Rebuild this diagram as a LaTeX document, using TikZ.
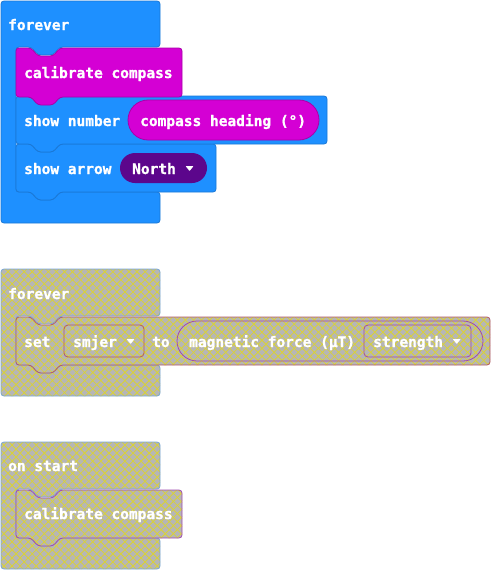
\documentclass[tikz,border=0pt]{standalone}
\usepackage{fontspec}
\newfontfamily\blockfont{DejaVu Sans Mono}[BoldFont={DejaVu Sans Mono Bold}, BoldFeatures={FakeBold=1.2}]
\usetikzlibrary{patterns.meta}

\definecolor{loopblue}{HTML}{1E90FF}
\definecolor{loopedge}{HTML}{1A78D6}
\definecolor{inputpink}{HTML}{D400D4}
\definecolor{inputedge}{HTML}{A800A8}
\definecolor{ledpurple}{HTML}{5C068C}
\definecolor{offgray}{HTML}{B6B6B6}
\definecolor{offhatch}{HTML}{DAD236}
\definecolor{offblue}{HTML}{78A6D8}
\definecolor{offred}{HTML}{B25868}
\definecolor{offpurple}{HTML}{A04AB0}

% statement block: top notch recess, bottom tab
\newcommand\stmtshape[4]{(#1,#2) -- (#1+15,#2) -- (#1+22,#2+8) -- (#1+37,#2+8) -- (#1+44,#2) -- (#3,#2) -- (#3,#4) -- (#1+44,#4) -- (#1+37,#4+8) -- (#1+22,#4+8) -- (#1+15,#4) -- (#1,#4) -- cycle}
% C-shaped container: left x, top y, right x, end of head, start of foot, bottom y
\newcommand\loopshape[6]{(#1,#2) -- (#3,#2) -- (#3,#4) -- (#1+59,#4) -- (#1+52,#4+8) -- (#1+37,#4+8) -- (#1+30,#4) -- (#1+15,#4) -- (#1+15,#5) -- (#1+30,#5) -- (#1+37,#5+8) -- (#1+52,#5+8) -- (#1+59,#5) -- (#3,#5) -- (#3,#6) -- (#1,#6) -- cycle}
% small dropdown arrow after a label node
\newcommand\dropmark[1]{\fill[white, rounded corners=0.6pt] ([shift={(9.5,-8)}]#1.base east) -- ([shift={(17.5,-8)}]#1.base east) -- ([shift={(13.5,-3)}]#1.base east) -- cycle;}

\tikzset{
  x=1pt, y=-1pt,
  block/.style={rounded corners=3pt, line width=0.8pt},
  live/.style={block, fill=#1},
  disabled/.style={block, fill=offgray,
    postaction={pattern={Lines[angle=45,distance=5.7pt,line width=0.8pt]}, pattern color=offhatch},
    postaction={pattern={Lines[angle=-45,distance=5.7pt,line width=0.8pt]}, pattern color=offhatch},
    postaction={draw=#1}},
  lbl/.style={font=\blockfont\bfseries\fontsize{14.5}{16}\selectfont, text=white,
    inner sep=0pt, anchor=base west},
}

\begin{document}
\begin{tikzpicture}
\useasboundingbox (0,0) rectangle (491,570);

% ---- first program: forever loop with compass blocks ----
\path[live=loopblue, draw=loopedge] \loopshape{1}{1}{160}{47}{192}{223};
\path[live=loopblue, draw=loopedge] \stmtshape{16}{144}{216}{192};
\path[live=loopblue, draw=loopedge] \stmtshape{16}{96}{327}{144};
\path[live=inputpink, draw=inputedge] \stmtshape{16}{48}{182}{97};
\path[fill=inputpink, draw=inputedge, line width=0.8pt, rounded corners=20pt] (128,100) rectangle (319,140);
\path[fill=ledpurple, rounded corners=15pt] (120,153) rectangle (207,183);

\node[lbl] (f1) at (8,30) {forever};
\node[lbl] (cal1) at (24,78) {calibrate compass};
\node[lbl] (shownum) at (24,126) {show number};
\node[lbl] (heading) at (140,126) {compass heading (°)};
\node[lbl] (showarr) at (24,174) {show arrow};
\node[lbl] (north) at (132,174) {North};
\dropmark{north}

% ---- second program: disabled forever loop ----
\path[disabled=offblue] \loopshape{1}{269}{160}{316}{365}{396};
\path[disabled=offred] \stmtshape{16}{317}{490}{365};
\draw[offred, line width=0.8pt, rounded corners=4pt] (64,325) rectangle (144,357);
\draw[offpurple, line width=0.8pt, rounded corners=20pt] (177,321) rectangle (483,361);
\draw[offpurple, line width=0.8pt, rounded corners=4pt] (364,325) rectangle (471,357);

\node[lbl] (f2) at (8,299) {forever};
\node[lbl] (setlbl) at (24,347) {set};
\node[lbl] (smjer) at (73,347) {smjer};
\dropmark{smjer}
\node[lbl] (tolbl) at (152,347) {to};
\node[lbl] (magnet) at (189,347) {magnetic force (µT)};
\node[lbl] (strength) at (373,347) {strength};
\dropmark{strength}

% ---- third program: disabled on start ----
\path[disabled=offblue] \loopshape{1}{442}{160}{489}{538}{569};
\path[disabled=offpurple] \stmtshape{16}{490}{182}{538};

\node[lbl] (onstart) at (8,471) {on start};
\node[lbl] (cal2) at (24,519) {calibrate compass};
\end{tikzpicture}
\end{document}
